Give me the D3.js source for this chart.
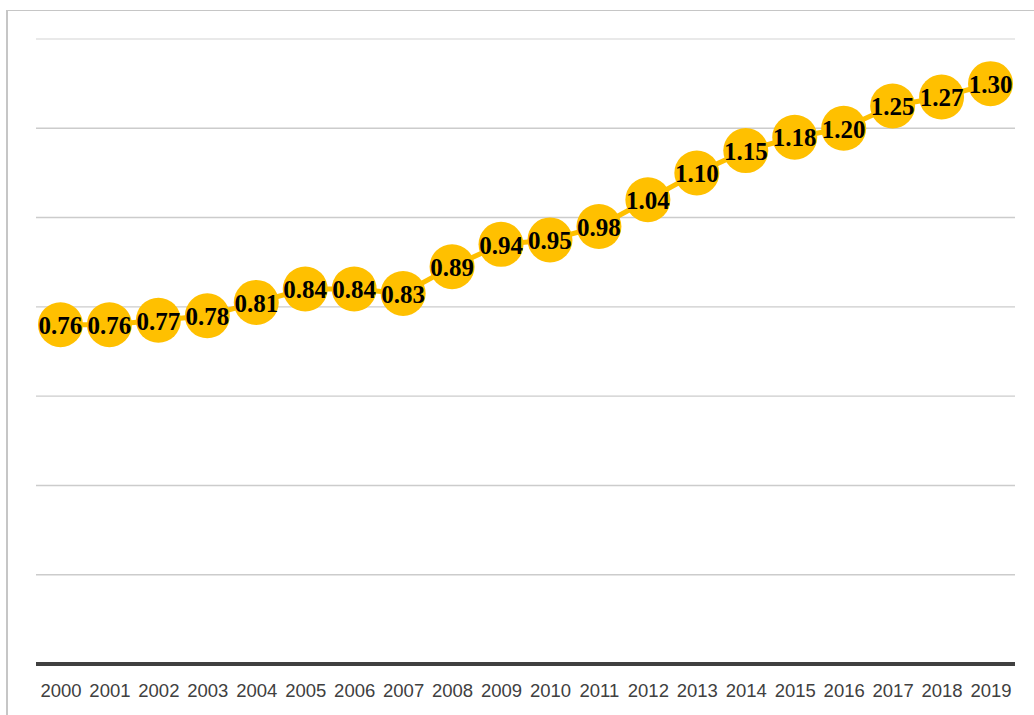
<!DOCTYPE html>
<html>
<head>
<meta charset="utf-8">
<script src="https://cdn.jsdelivr.net/npm/d3@7"></script>
<style>
  html, body { margin: 0; padding: 0; background: #fff; }
  svg { display: block; }
</style>
</head>
<body>
<svg id="chart" width="1034" height="715"></svg>
<script>
// Annual values, 2000–2019
const years = ["2000","2001","2002","2003","2004","2005","2006","2007","2008","2009",
               "2010","2011","2012","2013","2014","2015","2016","2017","2018","2019"];
const values = [0.76,0.76,0.77,0.78,0.81,0.84,0.84,0.83,0.89,0.94,
                0.95,0.98,1.04,1.10,1.15,1.18,1.20,1.25,1.27,1.30];
const gridTicks = [0.2,0.4,0.6,0.8,1.0,1.2,1.4];

const svg = d3.select("#chart");
const W = 1034, H = 715;
const plot = { left: 36, right: 1015, top: 39, bottom: 664 };

// Outer frame (left and top edges visible)
svg.append("line").attr("x1", 7).attr("x2", 7).attr("y1", 10).attr("y2", H)
  .attr("stroke", "#c6c6c6").attr("stroke-width", 2);
svg.append("line").attr("x1", 6).attr("x2", W).attr("y1", 10.5).attr("y2", 10.5)
  .attr("stroke", "#c6c6c6").attr("stroke-width", 1);

const x = d3.scalePoint().domain(years).range([plot.left, plot.right]).padding(0.5);
const y = d3.scaleLinear().domain([0, 1.4]).range([plot.bottom, plot.top]);

// Horizontal gridlines
svg.append("g").selectAll("line").data(gridTicks).join("line")
  .attr("x1", plot.left).attr("x2", plot.right)
  .attr("y1", d => y(d)).attr("y2", d => y(d))
  .attr("stroke", d => d === 1.4 ? "#e2e2e2" : "#cccccc").attr("stroke-width", 1.4);

// Category axis
const xAxis = svg.append("g")
  .attr("transform", `translate(0,${plot.bottom})`)
  .call(d3.axisBottom(x).tickSize(0).tickPadding(0));
xAxis.select(".domain").remove();
xAxis.append("line").attr("x1", plot.left).attr("x2", plot.right)
  .attr("y1", 0).attr("y2", 0).attr("stroke", "#404040").attr("stroke-width", 4);
xAxis.selectAll("text")
  .attr("dy", null).attr("y", 33)
  .attr("fill", "#404040")
  .style("font-family", "'Liberation Sans', Arial, sans-serif")
  .style("font-size", "18.5px");

// Series line
const line = d3.line().x((d, i) => x(years[i])).y(d => y(d));
svg.append("path").datum(values)
  .attr("d", line)
  .attr("fill", "none")
  .attr("stroke", "#FFC000")
  .attr("stroke-width", 5)
  .attr("stroke-linejoin", "round");

// Markers with value labels
const pts = svg.append("g").selectAll("g").data(values).join("g")
  .attr("transform", (d, i) => `translate(${x(years[i])},${y(d)})`);
pts.append("circle").attr("r", 22.5).attr("fill", "#FFC000");
pts.append("text")
  .attr("text-anchor", "middle")
  .attr("dy", "0.37em")
  .attr("fill", "#000")
  .style("font-family", "'Liberation Serif', 'Times New Roman', serif")
  .style("font-weight", "bold")
  .style("font-size", "25px")
  .text(d => d.toFixed(2));
</script>
</body>
</html>
